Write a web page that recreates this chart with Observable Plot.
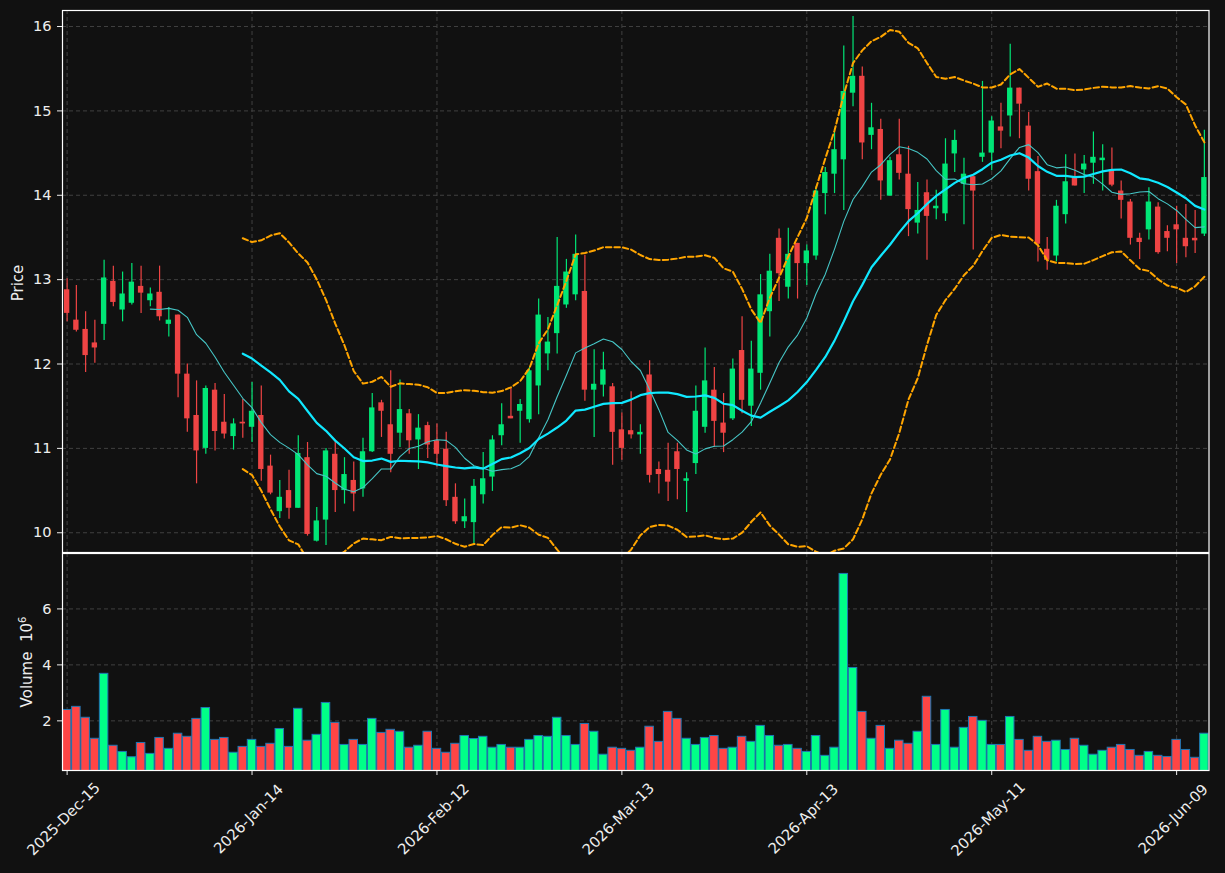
<!DOCTYPE html>
<html><head><meta charset="utf-8">
<script src="https://cdn.jsdelivr.net/npm/d3@7"></script>
<script src="https://cdn.jsdelivr.net/npm/@observablehq/plot@0.6"></script>
<style>
html,body{margin:0;padding:0;background:#111111;}
#chart{position:relative;width:1225px;height:873px;background:#111111;font-family:"DejaVu Sans",sans-serif;overflow:hidden;}
#chart svg{position:absolute;left:0;}
.lab{position:absolute;color:#eeeeee;font-size:15px;white-space:nowrap;transform:translate(-50%,-50%) rotate(-90deg);}
</style></head><body><div id="chart"></div>
<script>
// ---- data ----
const opens  = [12.88,12.52,12.41,12.25,12.47,12.98,12.64,12.72,12.92,12.75,12.85,12.47,12.58,11.88,11.39,11.00,11.69,11.31,11.14,11.31,
11.25,11.39,10.79,10.25,10.50,10.29,10.89,9.90,10.15,10.93,10.50,10.62,10.52,10.96,11.54,11.28,11.18,11.41,11.10,11.27,
11.09,10.99,10.42,10.13,10.12,10.45,10.66,11.15,11.38,11.44,11.34,11.74,12.12,12.36,12.70,12.82,12.86,11.69,11.75,11.73,
11.22,11.21,11.16,11.87,10.75,10.74,10.96,10.62,10.82,11.25,11.69,11.30,11.35,12.16,11.50,11.89,12.62,13.49,12.91,13.43,
13.19,13.28,14.02,14.25,14.42,15.21,15.41,14.71,14.78,13.99,14.48,14.25,13.67,14.03,13.85,13.78,14.49,14.13,14.22,14.45,
14.50,14.81,14.94,15.27,14.82,14.28,13.36,13.28,13.77,14.22,14.30,14.38,14.41,14.30,14.05,13.92,13.49,13.59,13.86,13.57,
13.65,13.49,13.48,13.54];
const highs  = [13.01,12.93,12.62,12.52,13.23,13.16,13.09,13.19,13.16,12.90,13.16,12.67,12.58,12.00,11.80,11.74,11.77,11.64,11.35,11.58,
11.78,11.74,10.92,10.62,10.74,11.15,11.07,10.30,11.00,11.09,10.89,10.84,11.12,11.65,11.57,11.92,11.81,11.46,11.40,11.31,
11.29,11.19,10.58,10.40,10.63,10.95,11.15,11.53,11.72,11.58,11.96,12.77,12.55,13.50,13.24,13.53,13.29,12.17,12.14,11.77,
11.42,11.67,11.28,12.04,10.84,11.06,11.06,10.71,11.74,12.19,11.96,11.65,12.06,12.56,12.27,13.06,13.30,13.60,13.61,13.43,
13.41,14.10,14.33,14.75,15.77,16.12,15.52,15.09,14.90,14.45,14.90,14.58,14.15,14.18,14.06,14.67,14.77,14.44,14.22,15.35,
14.93,15.09,15.79,15.27,14.98,14.46,13.50,13.94,14.48,14.49,14.47,14.75,14.60,14.56,14.17,13.95,13.55,14.09,13.91,13.64,
13.87,13.89,13.82,14.77];
const lows   = [12.50,12.38,11.90,12.01,12.28,12.68,12.50,12.70,12.60,12.68,12.51,12.32,11.60,11.19,10.58,10.93,10.97,11.11,10.98,11.12,
11.07,10.61,10.45,10.17,10.16,10.29,9.96,9.89,9.85,10.24,10.34,10.25,10.42,10.95,11.13,10.71,11.01,10.93,10.75,10.88,
10.78,10.31,10.10,10.05,9.85,10.34,10.49,11.03,11.35,11.06,11.30,11.40,11.92,12.12,12.66,12.75,11.56,11.13,11.61,10.80,
10.86,11.11,10.93,10.59,10.46,10.37,10.39,10.24,10.69,11.18,11.01,10.95,11.33,11.41,11.26,11.69,12.32,12.74,12.77,12.77,
12.93,13.23,13.77,14.02,13.82,15.05,14.42,14.54,13.94,13.99,14.18,13.51,13.54,13.23,13.71,13.69,14.27,13.65,13.35,14.39,
14.29,14.55,14.69,14.67,14.05,13.21,13.11,13.21,13.66,14.11,14.02,14.13,14.05,14.10,13.72,13.41,13.24,13.47,13.30,13.33,
13.19,13.26,13.31,13.51];
const closes = [12.60,12.40,12.10,12.19,13.02,12.73,12.83,12.97,12.84,12.83,12.56,12.52,11.88,11.35,10.97,11.71,11.20,11.17,11.29,11.29,
11.44,10.75,10.47,10.42,10.29,10.94,9.98,10.14,10.97,10.50,10.69,10.46,10.96,11.48,11.44,10.93,11.46,11.09,11.24,11.04,
10.93,10.38,10.13,10.19,10.55,10.64,11.10,11.28,11.35,11.52,11.92,12.58,12.26,12.92,13.09,13.30,11.69,11.76,11.93,11.19,
11.00,11.16,11.19,10.68,10.69,10.60,10.75,10.63,11.44,11.80,11.32,11.18,11.94,11.57,11.94,12.82,13.10,13.07,13.30,13.19,
13.34,14.05,14.27,14.54,15.23,15.41,14.62,14.80,14.17,14.41,14.26,13.83,13.82,13.75,13.86,14.37,14.65,14.25,14.05,14.50,
14.88,14.76,15.27,15.08,14.19,13.42,13.23,13.87,14.16,14.11,14.37,14.45,14.44,14.12,13.94,13.49,13.44,13.92,13.32,13.49,
13.59,13.39,13.47,14.21];
// volume in millions
const volumes = [2.39,2.50,2.11,1.36,3.68,1.11,0.89,0.70,1.21,0.82,1.39,1.00,1.54,1.43,2.07,2.46,1.32,1.39,0.86,1.07,
1.32,1.07,1.18,1.71,1.07,2.43,1.29,1.50,2.64,1.93,1.14,1.32,1.14,2.07,1.57,1.68,1.61,1.04,1.11,1.61,
1.00,0.86,1.18,1.46,1.35,1.43,1.04,1.14,1.04,1.04,1.32,1.46,1.43,2.11,1.46,1.14,1.89,1.61,0.79,1.04,
1.00,0.93,1.04,1.79,1.25,2.32,2.07,1.36,1.14,1.39,1.46,1.00,1.04,1.43,1.25,1.82,1.46,1.11,1.14,1.00,
0.89,1.46,0.75,1.04,7.25,3.89,2.32,1.36,1.82,1.00,1.29,1.18,1.61,2.86,1.14,2.39,1.04,1.75,2.14,2.00,
1.14,1.14,2.14,1.32,0.93,1.43,1.25,1.29,0.96,1.36,1.11,0.79,0.93,1.04,1.14,0.96,0.75,0.89,0.75,0.71,
1.32,0.96,0.68,1.54];
const tickIndex  = [0,20,40,60,80,100,120];
const tickLabels = ["2025-Dec-15","2026-Jan-14","2026-Feb-12","2026-Mar-13","2026-Apr-13","2026-May-11","2026-Jun-09"];
const priceTicks  = [10,11,12,13,14,15,16];
const volumeTicks = [2,4,6];

// ---- styling ----
const UP = "#00e676", DOWN = "#ef4444";
const VUP = "#00ff88", VDOWN = "#ff4545", VEDGE = "#1f77b4";
const GRID = "#404040";
const FG = "#eeeeee";

const candles = closes.map((c, i) => ({i, o: opens[i], h: highs[i], l: lows[i], c, v: volumes[i], up: c >= opens[i]}));
const ticksX = tickIndex.map((i, k) => ({i, label: tickLabels[k]}));

// indicators derived from closes
const ma10 = [];
for (let i = 9; i < closes.length; i++) ma10.push({i, v: d3.mean(closes.slice(i - 9, i + 1))});
const bb = [];
for (let i = 19; i < closes.length; i++) {
  const w = closes.slice(i - 19, i + 1);
  const m = d3.mean(w);
  const s = Math.sqrt(d3.mean(w, x => (x - m) ** 2));
  bb.push({i, m, up: m + 2 * s, lo: m - 2 * s});
}

const xDomain = [-0.5, 123.5];
const baseStyle = {background: "#111111", color: FG, fontSize: "14.6px", fontFamily: "DejaVu Sans, sans-serif"};

const price = Plot.plot({
  width: 1225, height: 553, marginLeft: 62, marginRight: 16.5, marginTop: 10, marginBottom: 1,
  style: baseStyle,
  x: {domain: xDomain, axis: null},
  y: {domain: [9.766, 16.19], ticks: priceTicks, tickSize: 5, tickPadding: 6, label: null, tickFormat: d => String(d)},
  color: {type: "identity"},
  marks: [
    Plot.ruleX(ticksX, {x: "i", stroke: GRID, strokeDasharray: "4,3"}),
    Plot.ruleY(priceTicks, {y: d => d, stroke: GRID, strokeDasharray: "4,3"}),
    Plot.ruleX(candles, {x: "i", y1: "l", y2: "h", stroke: d => d.up ? UP : DOWN, strokeWidth: 1.2}),
    Plot.rect(candles, {
      x1: d => d.i - 0.29, x2: d => d.i + 0.29,
      y1: d => Math.min(d.o, d.c) - (Math.abs(d.o - d.c) < 0.02 ? 0.01 : 0),
      y2: d => Math.max(d.o, d.c) + (Math.abs(d.o - d.c) < 0.02 ? 0.01 : 0),
      fill: d => d.up ? UP : DOWN
    }),
    Plot.line(ma10, {x: "i", y: "v", stroke: "#46c6c6", strokeWidth: 1.1, clip: true}),
    Plot.line(bb, {x: "i", y: "m", stroke: "#10e8ff", strokeWidth: 2.2, clip: true}),
    Plot.line(bb, {x: "i", y: "up", stroke: "#ffa500", strokeWidth: 2, strokeDasharray: "5.5,3", clip: true}),
    Plot.line(bb, {x: "i", y: "lo", stroke: "#ffa500", strokeWidth: 2, strokeDasharray: "5.5,3", clip: true}),
    Plot.frame({stroke: "#ffffff", strokeWidth: 1.2})
  ]
});
price.style.top = "0px";

const volume = Plot.plot({
  width: 1225, height: 320, marginLeft: 62, marginRight: 16.5, marginTop: 0, marginBottom: 103,
  style: baseStyle,
  x: {domain: xDomain, ticks: tickIndex, tickFormat: () => "", tickSize: 5, label: null},
  y: {domain: [0.226, 7.98], ticks: volumeTicks, tickSize: 5, tickPadding: 6, label: null},
  color: {type: "identity"},
  marks: [
    Plot.ruleX(ticksX, {x: "i", stroke: GRID, strokeDasharray: "4,3"}),
    Plot.ruleY(volumeTicks, {y: d => d, stroke: GRID, strokeDasharray: "4,3"}),
    Plot.rect(candles, {x1: d => d.i - 0.46, x2: d => d.i + 0.46, y1: 0, y2: "v",
      fill: d => d.up ? VUP : VDOWN, stroke: VEDGE, strokeWidth: 1, clip: true}),
    Plot.frame({stroke: "#ffffff", strokeWidth: 1.2}),
    Plot.text(ticksX, {x: "i", text: "label", frameAnchor: "bottom", dy: 52, rotate: -45,
      textAnchor: "middle", fill: FG, fontSize: 14.8})
  ]
});
volume.style.top = "553px";

const chart = document.getElementById("chart");
chart.appendChild(price);
chart.appendChild(volume);

const pl = document.createElement("div");
pl.className = "lab"; pl.textContent = "Price";
pl.style.left = "18px"; pl.style.top = "283px";
chart.appendChild(pl);

const vl = document.createElement("div");
vl.className = "lab"; vl.innerHTML = "Volume&nbsp;&nbsp;10<sup style=\"font-size:10px;vertical-align:6px\">6</sup>";
vl.style.left = "26px"; vl.style.top = "662px";
chart.appendChild(vl);
</script>
</body></html>
